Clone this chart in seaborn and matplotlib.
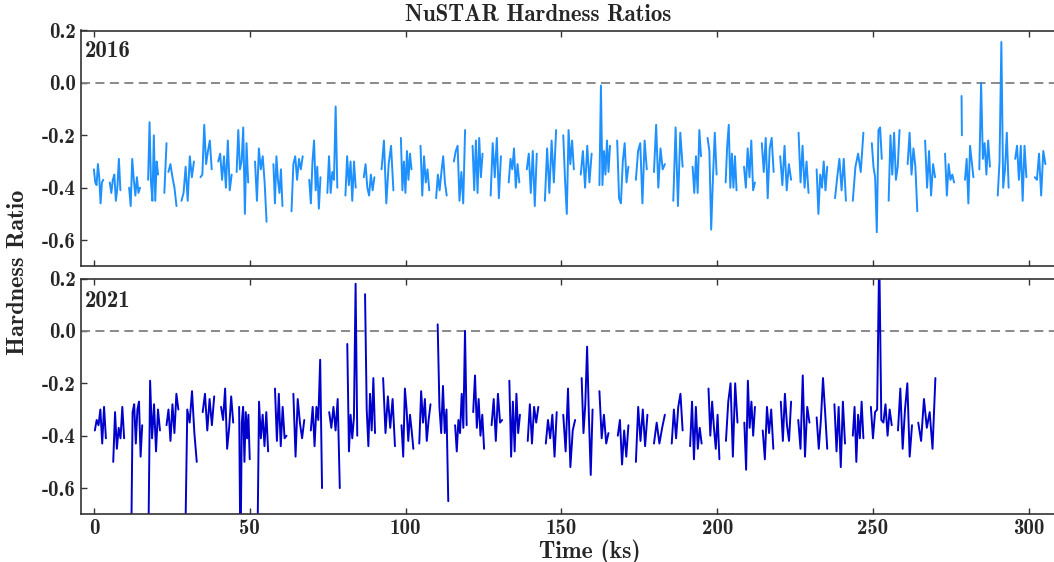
import numpy as np
import pandas as pd
import matplotlib
matplotlib.use("Agg")
import matplotlib.pyplot as plt
import seaborn as sns

# ---------------- data ----------------
seg_start_2016 = [0.0, 5.1, 11.3, 17.4, 22.6, 23.9, 28.1, 34.2, 39.9, 45.8,
                  51.7, 57.6, 63.4, 69.1, 74.9, 80.7, 86.6, 92.3, 98.5, 104.8,
                  109.8, 115.5, 121.5, 127.3, 133.1, 138.9, 144.7, 150.6, 156.2, 162.2,
                  167.9, 173.9, 179.7, 185.9, 192.1, 196.9, 202.7, 208.6, 214.3, 220.2,
                  226.1, 231.9, 237.8, 243.5, 249.6, 255.0, 261.1, 266.7, 273.1, 278.4,
                  279.5, 284.1, 290.0, 295.6, 301.9]
seg_end_2016 = [3.0, 8.5, 14.8, 20.6, 23.3, 26.5, 32.1, 37.8, 44.2, 49.5,
                55.4, 60.5, 67.0, 72.7, 78.1, 84.0, 90.0, 96.1, 101.9, 107.6,
                113.2, 119.1, 124.7, 130.6, 136.5, 142.1, 148.3, 154.0, 159.7, 165.6,
                171.5, 177.4, 183.2, 188.9, 194.8, 199.8, 206.2, 212.1, 218.1, 223.7,
                229.3, 235.3, 241.3, 246.9, 252.8, 258.5, 264.2, 269.9, 276.0, 278.5,
                282.2, 287.5, 293.5, 299.2, 305.3]
hr_2016 = [
    [-0.33, -0.38, -0.39, -0.31, -0.36, -0.46, -0.38, -0.37],
    [-0.38, -0.42, -0.37, -0.35, -0.45, -0.40, -0.29, -0.41],
    [-0.40, -0.47, -0.29, -0.37, -0.43, -0.36, -0.42, -0.40],
    [-0.37, -0.15, -0.38, -0.45, -0.20, -0.45, -0.30, -0.35],
    [-0.42, -0.23],
    [-0.34, -0.31, -0.36, -0.40, -0.47],
    [-0.45, -0.42, -0.32, -0.45, -0.28, -0.36, -0.30],
    [-0.36, -0.35, -0.16, -0.31, -0.26, -0.22, -0.33],
    [-0.30, -0.27, -0.37, -0.28, -0.40, -0.22, -0.41, -0.35],
    [-0.34, -0.18, -0.33, -0.30, -0.17, -0.50, -0.23, -0.38],
    [-0.30, -0.45, -0.25, -0.33, -0.28, -0.38, -0.53],
    [-0.31, -0.46, -0.28, -0.37, -0.42, -0.33, -0.47],
    [-0.49, -0.31, -0.28, -0.37, -0.29, -0.33, -0.28],
    [-0.37, -0.46, -0.30, -0.22, -0.41, -0.32, -0.48, -0.36],
    [-0.42, -0.28, -0.42, -0.34, -0.37, -0.09, -0.40],
    [-0.43, -0.28, -0.39, -0.30, -0.45, -0.30, -0.40],
    [-0.36, -0.31, -0.40, -0.43, -0.35, -0.41, -0.36],
    [-0.33, -0.22, -0.46, -0.31, -0.24, -0.41],
    [-0.21, -0.41, -0.30, -0.42, -0.26, -0.37, -0.27, -0.33],
    [-0.24, -0.43, -0.28, -0.38, -0.33, -0.41],
    [-0.44, -0.35, -0.41, -0.34, -0.28, -0.38, -0.43],
    [-0.30, -0.26, -0.24, -0.45, -0.34, -0.46, -0.18],
    [-0.24, -0.41, -0.22, -0.42, -0.21, -0.36, -0.27],
    [-0.43, -0.23, -0.36, -0.21, -0.44, -0.28],
    [-0.38, -0.29, -0.33, -0.25, -0.40, -0.31, -0.38],
    [-0.33, -0.27, -0.42, -0.26, -0.47, -0.27],
    [-0.45, -0.25, -0.42, -0.22, -0.38, -0.18],
    [-0.20, -0.37, -0.50, -0.18, -0.31, -0.22, -0.33],
    [-0.35, -0.26, -0.40, -0.24, -0.38, -0.27],
    [-0.39, -0.01, -0.39, -0.26, -0.35, -0.22, -0.34, -0.24],
    [-0.22, -0.44, -0.46, -0.30, -0.23, -0.38, -0.32],
    [-0.37, -0.26, -0.23, -0.46, -0.22, -0.33],
    [-0.34, -0.16, -0.40, -0.25, -0.33, -0.31],
    [-0.45, -0.17, -0.47, -0.19, -0.32],
    [-0.32, -0.42, -0.28, -0.42, -0.18, -0.28],
    [-0.21, -0.26, -0.56, -0.36, -0.19, -0.35],
    [-0.38, -0.24, -0.16, -0.40, -0.27, -0.40, -0.28, -0.41],
    [-0.32, -0.40, -0.25, -0.36, -0.22, -0.41, -0.38],
    [-0.23, -0.34, -0.21, -0.44, -0.25, -0.21, -0.34],
    [-0.28, -0.39, -0.24, -0.41, -0.31, -0.37],
    [-0.19, -0.38, -0.24, -0.40, -0.30, -0.42],
    [-0.33, -0.50, -0.35, -0.40, -0.30, -0.41, -0.32],
    [-0.44, -0.36, -0.29, -0.41, -0.29, -0.45],
    [-0.45, -0.32, -0.27, -0.34, -0.19],
    [-0.23, -0.32, -0.36, -0.57, -0.18, -0.17, -0.29],
    [-0.45, -0.20, -0.35, -0.19, -0.37, -0.32, -0.18],
    [-0.31, -0.19, -0.35, -0.25, -0.32, -0.49],
    [-0.22, -0.40, -0.26, -0.43, -0.31, -0.36],
    [-0.27, -0.43, -0.31, -0.37, -0.35, -0.38],
    [-0.05, -0.20],
    [-0.37, -0.29, -0.46, -0.24, -0.30, -0.36],
    [-0.33, 0.00, -0.29, -0.23, -0.35, -0.22, -0.32],
    [-0.43, -0.30, 0.156, -0.40, -0.33, -0.19, -0.40],
    [-0.29, -0.24, -0.37, -0.24, -0.45, -0.24, -0.36],
    [-0.36, -0.37, -0.27, -0.43, -0.26, -0.31],
]

seg_start_2021 = [0.3, 6.2, 11.9, 17.4, 23.3, 29.2, 34.9, 40.8, 46.6, 52.4,
                  58.1, 64.0, 69.6, 75.5, 81.3, 87.0, 92.8, 98.7, 104.4, 110.3,
                  115.9, 121.7, 127.6, 133.3, 139.2, 145.0, 150.6, 156.5, 162.2, 168.1,
                  173.9, 179.7, 185.4, 191.3, 197.2, 202.8, 208.7, 214.6, 220.4, 226.0,
                  231.9, 237.6, 243.5, 249.3, 258.0, 264.5]
seg_end_2021 = [3.85, 9.7, 15.5, 21.2, 27.1, 33.0, 38.6, 44.7, 50.0, 55.9,
                61.8, 67.5, 73.2, 78.9, 84.5, 90.2, 96.6, 102.5, 108.0, 113.7,
                119.6, 125.2, 131.0, 136.7, 142.6, 148.5, 154.4, 160.0, 165.1, 171.5,
                177.6, 183.2, 188.9, 195.0, 200.7, 206.5, 212.1, 218.0, 223.7, 229.6,
                235.3, 241.0, 246.9, 256.0, 262.5, 270.0]
hr_2021 = [
    [-0.38, -0.34, -0.36, -0.30, -0.43, -0.29, -0.41],
    [-0.50, -0.31, -0.45, -0.37, -0.41, -0.29, -0.41],
    [-0.90, -0.31, -0.28, -0.43, -0.30, -0.27, -0.48, -0.36],
    [-0.90, -0.19, -0.41, -0.28, -0.46, -0.30, -0.38],
    [-0.36, -0.30, -0.42, -0.28, -0.39, -0.24, -0.30],
    [-0.90, -0.30, -0.35, -0.23, -0.39, -0.50],
    [-0.31, -0.24, -0.38, -0.26, -0.36, -0.25],
    [-0.29, -0.34, -0.22, -0.45, -0.37, -0.25, -0.35],
    [-0.29, -0.90, -0.35, -0.29, -0.50, -0.31, -0.41, -0.32, -0.49],
    [-0.90, -0.27, -0.41, -0.32, -0.44, -0.31, -0.46],
    [-0.22, -0.42, -0.24, -0.44, -0.29, -0.41, -0.40],
    [-0.24, -0.48, -0.26, -0.35, -0.41, -0.34],
    [-0.38, -0.29, -0.44, -0.29, -0.34, -0.11, -0.60],
    [-0.31, -0.37, -0.29, -0.38, -0.26, -0.60],
    [-0.05, -0.46, -0.32, -0.41, -0.33, 0.18, -0.40],
    [0.14, -0.30, -0.44, -0.24, -0.38, -0.18, -0.39],
    [-0.18, -0.39, -0.25, -0.37, -0.26, -0.44],
    [-0.36, -0.48, -0.22, -0.30, -0.42, -0.32, -0.38, -0.45],
    [-0.43, -0.23, -0.35, -0.26, -0.42, -0.34, -0.28],
    [0.025, -0.29, -0.39, -0.21, -0.39, -0.30, -0.65],
    [-0.36, -0.46, -0.34, -0.39, -0.24, -0.37, 0.00, -0.36],
    [-0.31, -0.17, -0.37, -0.26, -0.40, -0.32, -0.45],
    [-0.36, -0.26, -0.42, -0.24, -0.35, -0.34],
    [-0.19, -0.48, -0.27, -0.46, -0.24, -0.39, -0.32],
    [-0.42, -0.28, -0.43, -0.29, -0.35, -0.29],
    [-0.43, -0.34, -0.41, -0.32, -0.48, -0.31],
    [-0.32, -0.46, -0.22, -0.52, -0.38, -0.34],
    [-0.18, -0.39, -0.28, -0.06, -0.33, -0.55, -0.30],
    [-0.23, -0.41, -0.32, -0.43, -0.39],
    [-0.40, -0.34, -0.51, -0.38, -0.48, -0.36],
    [-0.50, -0.29, -0.42, -0.30, -0.44, -0.32],
    [-0.43, -0.35, -0.43, -0.37, -0.32],
    [-0.43, -0.30, -0.41, -0.29, -0.24, -0.38],
    [-0.44, -0.27, -0.49, -0.29, -0.45, -0.37, -0.43],
    [-0.22, -0.40, -0.27, -0.37, -0.45, -0.32, -0.49],
    [-0.42, -0.27, -0.20, -0.48, -0.20, -0.35],
    [-0.35, -0.53, -0.19, -0.37, -0.27, -0.40, -0.29],
    [-0.38, -0.49, -0.29, -0.39, -0.30, -0.45],
    [-0.27, -0.42, -0.24, -0.36, -0.42, -0.27],
    [-0.34, -0.45, -0.17, -0.48, -0.29, -0.35],
    [-0.33, -0.45, -0.34, -0.18, -0.31, -0.45],
    [-0.28, -0.46, -0.29, -0.52, -0.27, -0.43],
    [-0.40, -0.29, -0.50, -0.32, -0.41, -0.27, -0.41],
    [-0.29, -0.41, -0.31, -0.30, 0.30, -0.34, -0.35, -0.28, -0.40, -0.30, -0.36],
    [-0.38, -0.22, -0.45, -0.30, -0.20, -0.48, -0.36],
    [-0.35, -0.42, -0.26, -0.37, -0.31, -0.45, -0.18],
]

years = ["2016", "2021"]
line_colors = ["#1E90FF", "#0000CD"]
x_ticks = [0, 50, 100, 150, 200, 250, 300]
y_ticks = [-0.6, -0.4, -0.2, 0.0, 0.2]
y_tick_labels = ["-0.6", "-0.4", "-0.2", "0.0", "0.2"]


def build(starts, ends, vals):
    parts = []
    for k, (a, b, v) in enumerate(zip(starts, ends, vals)):
        parts.append(pd.DataFrame({"t": np.linspace(a, b, len(v)),
                                   "hr": v, "seg": k}))
    return pd.concat(parts, ignore_index=True)


frames = [build(seg_start_2016, seg_end_2016, hr_2016),
          build(seg_start_2021, seg_end_2021, hr_2021)]

# ---------------- style ----------------
sns.set_style("ticks")
plt.rcParams["font.family"] = ["cmb10", "DejaVu Serif"]
plt.rcParams["axes.unicode_minus"] = False

W, H = 1054, 562
fig = plt.figure(figsize=(W / 100, H / 100), dpi=100)

ax_left, ax_right = 80.5, 1056.0
panels_px = [(30.5, 266.3), (278.5, 514.3)]
axes = []
for (top, bot) in panels_px:
    ax = fig.add_axes([ax_left / W, 1 - bot / H, (ax_right - ax_left) / W, (bot - top) / H])
    axes.append(ax)

for i, (ax, df) in enumerate(zip(axes, frames)):
    ax.axhline(0.0, color="#808080", ls=(0, (5, 3)), lw=1.3, zorder=1)
    sns.lineplot(data=df, x="t", y="hr", units="seg", estimator=None,
                 color=line_colors[i], lw=1.4, ax=ax, legend=False, zorder=2)
    ax.set_xlim(-4.3, 308.7)
    ax.set_ylim(-0.7, 0.2)
    ax.set_xticks(x_ticks)
    ax.set_yticks(y_ticks)
    ax.set_yticklabels(y_tick_labels)
    ax.tick_params(direction="in", top=True, right=False, length=4, width=1,
                   labelsize=15, color="#333333")
    for s in ax.spines.values():
        s.set_color("#333333")
        s.set_linewidth(1.2)
    ax.set_xlabel("")
    ax.set_ylabel("")
    ax.text(0.004, 0.958 if i == 0 else 0.95, years[i], transform=ax.transAxes,
            ha="left", va="top", fontsize=16.5)

axes[0].tick_params(labelbottom=False)
axes[1].set_xticklabels([str(v) for v in x_ticks])
axes[1].set_xlabel("Time (ks)", fontsize=17)
axes[1].xaxis.set_label_coords((590 - ax_left) / (ax_right - ax_left), -0.105)

fig.text(538 / W, 1 - 15 / H, "NuSTAR Hardness Ratios", ha="center", va="center", fontsize=16.5)
fig.text(18 / W, 1 - 272 / H, "Hardness Ratio", ha="center", va="center",
         rotation=90, fontsize=17.5)

fig.savefig("out.png", dpi=100)
